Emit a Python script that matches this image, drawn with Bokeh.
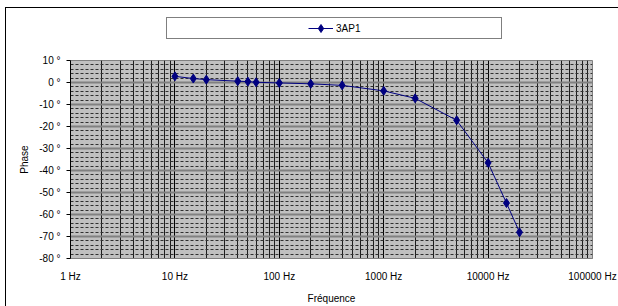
from bokeh.plotting import figure
from bokeh.layouts import column
from bokeh.models import (Range1d, FixedTicker, PrintfTickFormatter, Legend, LegendItem,
                          ColumnDataSource)
from bokeh.embed import file_html
from bokeh.resources import INLINE

# ---- data ----
freq_hz = [10, 15, 20, 40, 50, 60, 100, 200, 400, 1000, 2000, 5000, 10000, 15000, 20000]
phase_deg = [2.8, 1.8, 1.3, 0.6, 0.4, 0.1, -0.2, -0.6, -1.3, -3.8, -7.2, -17.2, -36.5, -54.8, -68.1]
series_name = "3AP1"
x_major_ticks = [1, 10, 100, 1000, 10000, 100000]
y_major_ticks = [-80, -70, -60, -50, -40, -30, -20, -10, 0, 10]

x_minor_ticks = [m * d for d in x_major_ticks[:-1] for m in range(2, 10)]
y_minor_ticks = [v for v in range(-80, 11, 2) if v % 10 != 0]

FONT = "Liberation Sans"
NAVY = "#000080"

# ---------------- main chart ----------------
p = figure(width=618, height=254, x_axis_type="log", title=None,
           x_range=Range1d(1, 100000), y_range=Range1d(-80, 10),
           output_backend="svg", toolbar_location=None,
           min_border_left=70, min_border_right=26, min_border_top=8, min_border_bottom=44)

p.background_fill_color = "#C0C0C0"
p.border_fill_color = None
p.outline_line_color = "#808080"
p.outline_line_width = 1

p.xaxis.ticker = FixedTicker(ticks=x_major_ticks, minor_ticks=x_minor_ticks)
p.yaxis.ticker = FixedTicker(ticks=y_major_ticks, minor_ticks=y_minor_ticks)
p.xaxis.formatter = PrintfTickFormatter(format="%d Hz")
p.yaxis.formatter = PrintfTickFormatter(format="%d °")

for ax in (p.xaxis[0], p.yaxis[0]):
    ax.major_label_text_font = FONT
    ax.major_label_text_font_size = "10px"
    ax.major_label_text_color = "black"
    ax.axis_label_text_font = FONT
    ax.axis_label_text_font_size = "10px"
    ax.axis_label_text_font_style = "normal"
    ax.axis_label_text_color = "black"
    ax.minor_tick_line_color = None

p.xaxis.axis_label = "Fréquence"
p.xaxis.axis_line_color = "#808080"
p.xaxis.major_tick_line_color = None
p.xaxis.major_tick_out = 0
p.xaxis.major_tick_in = 0
p.xaxis.major_label_standoff = 8
p.xaxis.axis_label_standoff = 8

p.yaxis.axis_label = "Phase"
p.yaxis.axis_line_color = "black"
p.yaxis.major_tick_line_color = "black"
p.yaxis.major_tick_out = 4
p.yaxis.major_tick_in = 0
p.yaxis.major_label_standoff = 6
p.yaxis.axis_label_standoff = 6

p.xgrid.grid_line_color = "black"
p.xgrid.grid_line_width = 1
p.xgrid.minor_grid_line_color = "black"
p.xgrid.minor_grid_line_width = 1
p.xgrid.minor_grid_line_alpha = 0.85

p.ygrid.grid_line_color = "#808080"
p.ygrid.grid_line_width = 2
p.ygrid.minor_grid_line_color = "#303030"
p.ygrid.minor_grid_line_width = 1
p.ygrid.minor_grid_line_dash = "3 2"

src = ColumnDataSource(dict(f=freq_hz, ph=phase_deg))
p.line("f", "ph", source=src, line_color=NAVY, line_width=1)
p.scatter("f", "ph", source=src, marker="diamond", size=9,
          fill_color=NAVY, line_color=NAVY)

# ---------------- legend strip ----------------
# its frame is aligned with the main frame by the column layout; the series
# glyphs here lie outside its ranges and only serve the legend entry
leg = figure(width=618, height=52, title=None, output_backend="svg", toolbar_location=None,
             x_axis_location=None, y_axis_location=None, min_border=0,
             x_range=Range1d(0, 1), y_range=Range1d(0, 1))
leg.grid.visible = False
leg.outline_line_color = None
leg.background_fill_color = None
leg.border_fill_color = None

lg_line = leg.line("f", "ph", source=src, line_color=NAVY, line_width=1)
lg_mark = leg.scatter("f", "ph", source=src, marker="diamond", size=9,
                      fill_color=NAVY, line_color=NAVY)
spacer = leg.line("f", "ph", source=src, line_alpha=0)

legend = Legend(items=[LegendItem(label=" ", renderers=[spacer]),
                       LegendItem(label=series_name, renderers=[lg_line, lg_mark]),
                       LegendItem(label=" ", renderers=[spacer])],
                orientation="horizontal", location=(96, 13),
                padding=0, margin=0, spacing=91,
                glyph_width=25, glyph_height=20, label_height=20, label_width=22,
                label_standoff=3,
                border_line_color="black", border_line_width=1,
                background_fill_color="white", background_fill_alpha=1,
                label_text_font=FONT, label_text_font_size="10px",
                label_text_color="black")
leg.add_layout(legend, "center")

layout = column(leg, p, spacing=0)
# outer chart border: top and left edges
layout.styles = {
    "background-color": "white",
    "background-image": "linear-gradient(#000,#000), linear-gradient(#000,#000)",
    "background-repeat": "no-repeat",
    "background-position": "5px 7px, 5px 7px",
    "background-size": "100% 1px, 1px 100%",
}

open("out.html", "w").write(file_html(layout, INLINE))
